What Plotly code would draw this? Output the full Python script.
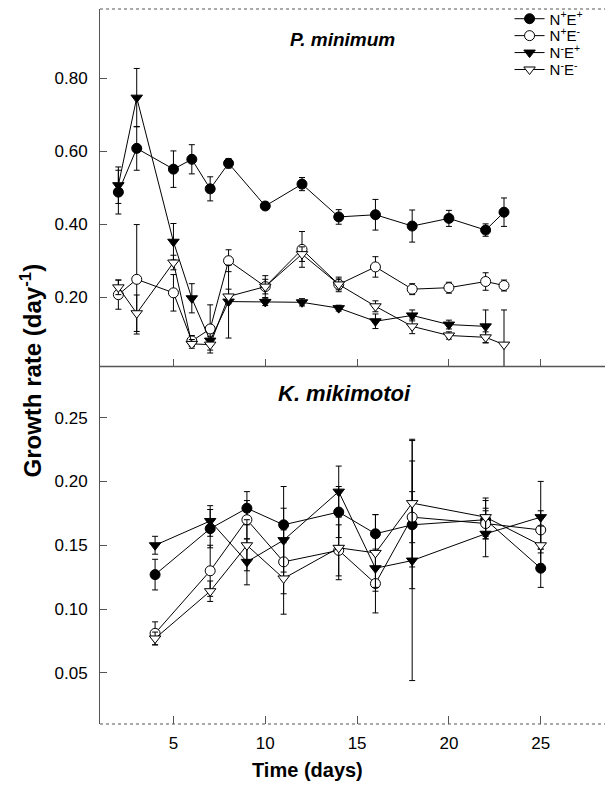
import plotly.graph_objects as go

# ---------------- data ----------------
# P. minimum (top panel)
x_top = [2, 3, 5, 6, 7, 8, 10, 12, 14, 16, 18, 20, 22, 23]
top_NpEp = [0.488, 0.608, 0.551, 0.578, 0.497, 0.567, 0.450, 0.510, 0.420, 0.426, 0.395, 0.416, 0.384, 0.433]
top_NpEp_err = [0.060, 0.060, 0.050, 0.040, 0.033, 0.013, 0.010, 0.018, 0.020, 0.042, 0.044, 0.022, 0.017, 0.039]
top_NpEm = [0.207, 0.249, 0.212, 0.080, 0.113, 0.300, 0.229, 0.331, 0.235, 0.283, 0.222, 0.226, 0.243, 0.232]
top_NpEm_err = [0.040, 0.150, 0.050, 0.015, 0.066, 0.030, 0.030, 0.049, 0.020, 0.028, 0.015, 0.015, 0.024, 0.015]
x_top_NmEp = [2, 3, 5, 6, 7, 8, 10, 12, 14, 16, 18, 20, 22]
top_NmEp = [0.507, 0.747, 0.352, 0.197, 0.081, 0.188, 0.187, 0.186, 0.170, 0.134, 0.150, 0.125, 0.120]
top_NmEp_err = [0.050, 0.080, 0.050, 0.040, 0.012, 0.100, 0.010, 0.010, 0.008, 0.020, 0.015, 0.012, 0.045]
top_NmEm = [0.227, 0.156, 0.295, 0.072, 0.070, 0.202, 0.229, 0.318, 0.235, 0.175, 0.120, 0.095, 0.090, 0.070]
top_NmEm_err = [0.020, 0.050, 0.020, 0.012, 0.015, 0.020, 0.020, 0.020, 0.015, 0.015, 0.020, 0.010, 0.015, 0.095]

# K. mikimotoi (bottom panel)
x_bot = [4, 7, 9, 11, 14, 16, 18, 22, 25]
bot_NpEp = [0.127, 0.163, 0.179, 0.166, 0.176, 0.159, 0.166, 0.170, 0.132]
bot_NpEp_err = [0.012, 0.015, 0.013, 0.030, 0.020, 0.015, 0.050, 0.015, 0.015]
bot_NpEm = [0.081, 0.130, 0.170, 0.137, 0.146, 0.120, 0.172, 0.167, 0.162]
bot_NpEm_err = [0.009, 0.020, 0.015, 0.025, 0.020, 0.023, 0.020, 0.012, 0.015]
bot_NmEp = [0.150, 0.169, 0.137, 0.154, 0.192, 0.132, 0.138, 0.159, 0.172]
bot_NmEp_err = [0.007, 0.012, 0.018, 0.025, 0.020, 0.015, 0.094, 0.018, 0.028]
bot_NmEm = [0.077, 0.114, 0.150, 0.124, 0.148, 0.144, 0.183, 0.172, 0.150]
bot_NmEm_err = [0.005, 0.008, 0.020, 0.028, 0.025, 0.030, 0.050, 0.015, 0.015]

names = ["N<sup>+</sup>E<sup>+</sup>", "N<sup>+</sup>E<sup>-</sup>",
         "N<sup>-</sup>E<sup>+</sup>", "N<sup>-</sup>E<sup>-</sup>"]
x_ticks = [5, 10, 15, 20, 25]
top_ticks = [0.20, 0.40, 0.60, 0.80]
bot_ticks = [0.05, 0.10, 0.15, 0.20, 0.25]

# ---------------- styles ----------------
styles = [
    dict(symbol="circle", color="black", line=dict(color="black", width=1)),
    dict(symbol="circle", color="white", line=dict(color="black", width=1)),
    dict(symbol="triangle-down", color="black", line=dict(color="black", width=1)),
    dict(symbol="triangle-down", color="white", line=dict(color="black", width=1)),
]
legend_ids = ["legend", "legend2", "legend3", "legend4"]

fig = go.Figure()

def add(x, y, err, k, xa, ya, show):
    fig.add_trace(go.Scatter(
        x=x, y=y, mode="lines+markers", name=names[k],
        xaxis=xa, yaxis=ya, showlegend=show, legend=legend_ids[k],
        line=dict(color="black", width=1),
        marker=dict(size=10, **styles[k]),
        error_y=dict(type="data", array=err, visible=True,
                     color="black", thickness=1, width=3),
    ))

add(x_top, top_NpEp, top_NpEp_err, 0, "x2", "y2", True)
add(x_top, top_NpEm, top_NpEm_err, 1, "x2", "y2", True)
add(x_top_NmEp, top_NmEp, top_NmEp_err, 2, "x2", "y2", True)
add(x_top, top_NmEm, top_NmEm_err, 3, "x2", "y2", True)

add(x_bot, bot_NpEp, bot_NpEp_err, 0, "x", "y", False)
add(x_bot, bot_NpEm, bot_NpEm_err, 1, "x", "y", False)
add(x_bot, bot_NmEp, bot_NmEp_err, 2, "x", "y", False)
add(x_bot, bot_NmEm, bot_NmEm_err, 3, "x", "y", False)

axis_col = "#555555"
font_fam = "Liberation Sans, Arial, sans-serif"
tickfont = dict(family=font_fam, size=17, color="black")

common_x = dict(range=[1, 28.5], tickvals=x_ticks, ticks="inside", ticklen=8,
                tickcolor=axis_col, showgrid=False, zeroline=False,
                showline=False, tickfont=tickfont, ticklabelstandoff=7)
common_y = dict(ticks="inside", ticklen=7, tickcolor=axis_col, showgrid=False,
                zeroline=False, showline=True, linecolor=axis_col, linewidth=1,
                tickfont=tickfont, ticklabelstandoff=8)

legend_rows_px = [16, 33, 50, 67]
legend_layout = {}
for lid, py in zip(legend_ids, legend_rows_px):
    legend_layout[lid] = dict(
        x=0.811, y=1 - (py - 6) / 718, xanchor="left", yanchor="middle",
        font=dict(family=font_fam, size=15, color="black"),
        bgcolor="rgba(0,0,0,0)", itemwidth=30)

fig.update_layout(
    xaxis=dict(**common_x, anchor="y", domain=[0, 1]),
    xaxis2=dict(**common_x, anchor="y2", domain=[0, 1], showticklabels=False,
                matches="x"),
    yaxis=dict(**common_y, domain=[0, 0.5], range=[0.01, 0.29],
               tickvals=bot_ticks, ticktext=[f"{v:.2f}" for v in bot_ticks],
               anchor="x"),
    yaxis2=dict(**common_y, domain=[0.5, 1], range=[0.01, 0.99],
                tickvals=top_ticks, ticktext=[f"{v:.2f}" for v in top_ticks],
                anchor="x2"),
    width=607, height=791,
    margin=dict(l=100, r=2, t=6, b=67),
    plot_bgcolor="white", paper_bgcolor="white",
    **legend_layout,
    shapes=[
        dict(type="line", xref="paper", yref="paper", x0=0, x1=1, y0=1, y1=1,
             line=dict(color=axis_col, width=1, dash="dot")),
        dict(type="line", xref="paper", yref="paper", x0=0, x1=1, y0=0.5, y1=0.5,
             line=dict(color=axis_col, width=1.5)),
        dict(type="line", xref="paper", yref="paper", x0=0, x1=1, y0=0, y1=0,
             line=dict(color=axis_col, width=1, dash="dot")),
    ],
    annotations=[
        dict(text="<b><i>P. minimum</i></b>", xref="paper", yref="paper",
             x=0.481, y=1 - (37 - 6) / 718, xanchor="center", yanchor="middle",
             showarrow=False,
             font=dict(family=font_fam, size=19, color="black")),
        dict(text="<b><i>K. mikimotoi</i></b>", xref="paper", yref="paper",
             x=0.484, y=1 - (392 - 6) / 718, xanchor="center", yanchor="middle",
             showarrow=False,
             font=dict(family=font_fam, size=22, color="black")),
        dict(text="<b>Time (days)</b>", xref="paper", yref="paper",
             x=(307 - 100) / 505, y=(724 - 770) / 718, xanchor="center",
             yanchor="middle", showarrow=False,
             font=dict(family=font_fam, size=20, color="black")),
        dict(text="<b>Growth rate (day<sup>-1</sup>)</b>", xref="paper",
             yref="paper", x=(31 - 100) / 505, y=1 - (369 - 6) / 718,
             xanchor="center", yanchor="middle", showarrow=False,
             textangle=-90,
             font=dict(family=font_fam, size=24, color="black")),
    ],
)

fig.write_html("out.html")
